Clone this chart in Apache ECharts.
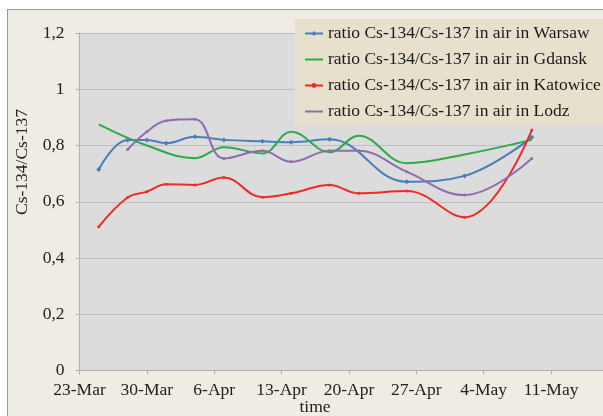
<!DOCTYPE html>
<html>
<head>
<meta charset="utf-8">
<script src="https://cdn.jsdelivr.net/npm/echarts@6/dist/echarts.min.js"></script>
<style>
html,body{margin:0;padding:0;background:#fff;}
#c{width:603px;height:416px;}
</style>
</head>
<body>
<div id="c"></div>
<script>
// x values are days after 23-Mar
const tickLabels = ['23-Mar','30-Mar','6-Apr','13-Apr','20-Apr','27-Apr','4-May','11-May'];
const seriesNames = [
  'ratio Cs-134/Cs-137 in air in Warsaw',
  'ratio Cs-134/Cs-137 in air in Gdansk',
  'ratio Cs-134/Cs-137 in air in Katowice',
  'ratio Cs-134/Cs-137 in air in Lodz'
];
const warsawDays = [2,5,7,9,12,15,19,22,26,34,40,47];
const warsawVals = [0.715,0.82,0.82,0.808,0.831,0.82,0.815,0.812,0.822,0.671,0.692,0.829];
const gdanskDays = [2,7,12,15,19,22,26,29,34,40,47];
const gdanskVals = [0.875,0.80,0.755,0.794,0.772,0.849,0.776,0.835,0.737,0.768,0.82];
const katowiceDays = [2,5,7,9,12,15,19,22,26,29,34,40,47];
const katowiceVals = [0.511,0.615,0.636,0.662,0.66,0.686,0.616,0.63,0.66,0.63,0.638,0.545,0.855];
const lodzDays = [5,7,9,12,15,19,22,26,29,34,40,47];
const lodzVals = [0.786,0.849,0.888,0.893,0.754,0.781,0.742,0.781,0.781,0.707,0.624,0.754];

const pair = (d, v) => d.map((x, i) => [x, v[i]]);
const serif = '"Liberation Serif", "DejaVu Serif", serif';
const FS = 17.5;

const chart = echarts.init(document.getElementById('c'), null, {renderer: 'canvas'});
function mk(name, data, color, symbol, size) {
  return {
    name: name, type: 'line', data: data, smooth: 0.4,
    symbol: symbol, symbolSize: size, showSymbol: symbol !== 'none',
    lineStyle: {color: color, width: 2},
    itemStyle: {color: color},
    emphasis: {disabled: true}
  };
}
chart.setOption({
  animation: false,
  backgroundColor: '#efece4',
  graphic: [
    {type: 'rect', shape: {x: 0, y: 0, width: 603, height: 9}, style: {fill: '#ffffff'}, silent: true},
    {type: 'rect', shape: {x: 0, y: 0, width: 7, height: 416}, style: {fill: '#ffffff'}, silent: true},
    {type: 'line', shape: {x1: 7, y1: 9.5, x2: 603, y2: 9.5}, style: {stroke: '#999999', lineWidth: 1}, silent: true},
    {type: 'line', shape: {x1: 7.5, y1: 9, x2: 7.5, y2: 416}, style: {stroke: '#999999', lineWidth: 1}, silent: true},
    {type: 'text', x: 22, y: 162, rotation: Math.PI / 2,
     style: {text: 'Cs-134/Cs-137', font: FS + 'px ' + serif, fill: '#222', align: 'center', verticalAlign: 'middle'}},
    {type: 'text', x: 315, y: 407,
     style: {text: 'time', font: FS + 'px ' + serif, fill: '#222', align: 'center', verticalAlign: 'middle'}}
  ],
  grid: {left: 79.5, top: 33, right: 0, bottom: 45.5, show: true, backgroundColor: '#dcdcdc', borderWidth: 0},
  legend: {
    orient: 'vertical', left: 295, top: 19,
    backgroundColor: '#e6e0cd', padding: [5, 8, 4, 9],
    itemWidth: 18, itemHeight: 6, itemGap: 7,
    textStyle: {fontFamily: serif, fontSize: FS, color: '#1a1a1a', lineHeight: 19},
    data: [
      {name: seriesNames[0]},
      {name: seriesNames[1], itemStyle: {opacity: 0}},
      {name: seriesNames[2]},
      {name: seriesNames[3], itemStyle: {opacity: 0}}
    ]
  },
  xAxis: {
    type: 'value', min: 0, max: 54.4, interval: 7,
    axisLine: {show: true, lineStyle: {color: '#b0b0b0'}},
    axisTick: {show: true, length: 4, lineStyle: {color: '#b0b0b0'}},
    splitLine: {show: false},
    axisLabel: {
      margin: 11, fontFamily: serif, fontSize: FS, color: '#222', showMaxLabel: false,
      formatter: v => (v % 7 === 0 && tickLabels[v / 7] !== undefined) ? tickLabels[v / 7] : ''
    }
  },
  yAxis: {
    type: 'value', min: 0, max: 1.2, interval: 0.2,
    axisLine: {show: true, lineStyle: {color: '#b0b0b0'}},
    axisTick: {show: true, length: 4, lineStyle: {color: '#b0b0b0'}},
    splitLine: {show: true, lineStyle: {color: '#bebebe', width: 1}},
    axisLabel: {
      margin: 15, fontFamily: serif, fontSize: FS, color: '#222',
      formatter: v => String(+v.toFixed(1)).replace('.', ',')
    }
  },
  series: [
    mk(seriesNames[0], pair(warsawDays, warsawVals), '#4a7ebb', 'diamond', 5),
    mk(seriesNames[1], pair(gdanskDays, gdanskVals), '#2eaa4a', 'none', 0),
    mk(seriesNames[2], pair(katowiceDays, katowiceVals), '#ee2a2a', 'circle', 3),
    mk(seriesNames[3], pair(lodzDays, lodzVals), '#8d6cb0', 'circle', 3)
  ]
});
</script>
</body>
</html>
